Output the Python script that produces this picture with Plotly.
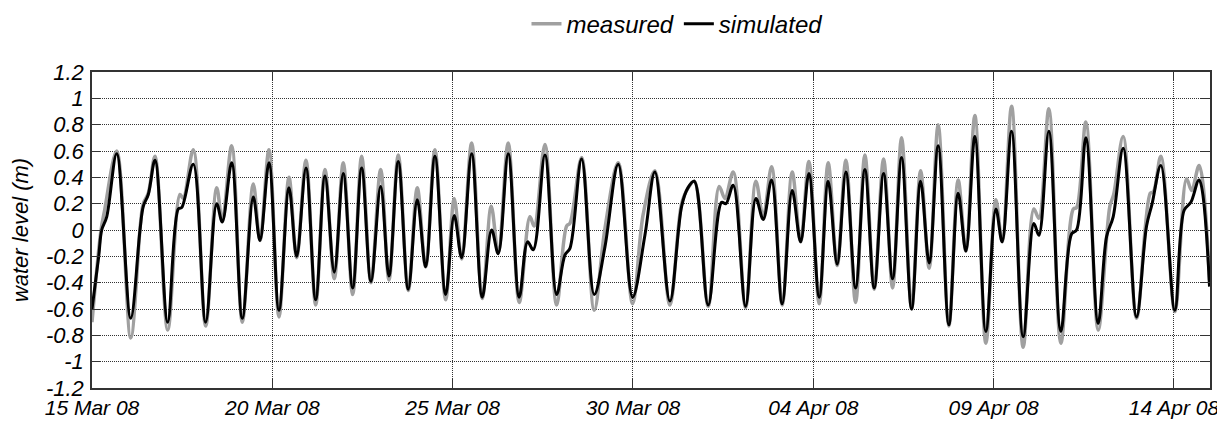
import pandas as pd
import plotly.graph_objects as go

# time of each point in days after 15 Mar 2008 00:00, values in m
sim_days = [0.00, 0.186, 0.269, 0.408, 0.685, 1.073, 1.331, 1.422, 1.561, 1.747,
            2.099, 2.393, 2.487, 2.808, 3.152, 3.457, 3.612, 3.873, 4.167, 4.472,
            4.658, 4.907, 5.184, 5.462, 5.675, 5.933, 6.202, 6.460, 6.718, 6.967,
            7.228, 7.477, 7.735, 8.004, 8.234, 8.492, 8.769, 9.019, 9.252, 9.509,
            9.806, 10.044, 10.250, 10.527, 10.821, 11.081, 11.264, 11.541, 11.846, 12.079,
            12.235, 12.559, 12.883, 13.113, 13.252, 13.576, 13.926, 14.222, 14.591, 14.990,
            15.331, 15.608, 16.024, 16.349, 16.523, 16.699, 17.086, 17.458, 17.577, 17.779,
            18.123, 18.409, 18.611, 18.844, 19.138, 19.415, 19.648, 19.878, 20.164, 20.413,
            20.663, 20.904, 21.173, 21.431, 21.689, 21.949, 22.199, 22.448, 22.726, 22.975,
            23.213, 23.463, 23.759, 24.017, 24.231, 24.480, 24.785, 25.062, 25.237, 25.498,
            25.820, 26.116, 26.255, 26.532, 26.864, 27.161, 27.300, 27.558, 27.899, 28.132,
            28.315, 28.592, 28.963, 29.241, 29.396, 29.637, 30.025, 30.283, 30.469, 30.699,
            30.987]
sim_level = [-0.60, -0.20, 0.00, 0.10, 0.58, -0.67, 0.00, 0.18, 0.27, 0.53,
             -0.70, 0.16, 0.17, 0.50, -0.70, 0.20, 0.06, 0.51, -0.67, 0.25,
             -0.08, 0.51, -0.61, 0.32, -0.20, 0.47, -0.53, 0.41, -0.32, 0.43,
             -0.44, 0.47, -0.39, 0.33, -0.35, 0.52, -0.45, 0.23, -0.28, 0.56,
             -0.49, 0.11, -0.21, 0.58, -0.51, 0.00, -0.18, 0.58, -0.51, -0.09,
             -0.15, 0.57, -0.49, -0.19, -0.14, 0.54, -0.49, -0.13, 0.50, -0.51,
             -0.04, 0.44, -0.54, 0.18, 0.32, 0.37, -0.57, 0.21, 0.20, 0.34,
             -0.58, 0.24, 0.08, 0.38, -0.56, 0.30, -0.09, 0.43, -0.51, 0.37,
             -0.26, 0.44, -0.44, 0.46, -0.44, 0.43, -0.37, 0.55, -0.60, 0.37,
             -0.25, 0.64, -0.72, 0.28, -0.16, 0.71, -0.77, 0.16, -0.09, 0.75,
             -0.81, 0.05, -0.04, 0.75, -0.77, -0.03, 0.00, 0.70, -0.71, -0.05,
             0.10, 0.62, -0.66, 0.03, 0.20, 0.49, -0.61, 0.15, 0.21, 0.38,
             -0.43]

meas_days = [0.00, 0.25, 0.35, 0.685, 1.073, 1.345, 1.422, 1.561, 1.747, 2.099,
             2.44, 2.53, 2.808, 3.152, 3.457, 3.612, 3.873, 4.167, 4.472, 4.658,
             4.907, 5.184, 5.462, 5.675, 5.933, 6.202, 6.460, 6.718, 6.967, 7.228,
             7.477, 7.735, 8.004, 8.234, 8.492, 8.769, 9.019, 9.252, 9.509, 9.806,
             10.044, 10.250, 10.527, 10.821, 11.07, 11.264, 11.541, 11.846, 12.143, 12.262,
             12.559, 12.883, 13.160, 13.252, 13.576, 13.926, 14.222, 14.591, 14.990, 15.284,
             15.608, 16.024, 16.349, 16.53, 16.699, 17.086, 17.391, 17.55, 17.779, 18.123,
             18.409, 18.611, 18.844, 19.138, 19.415, 19.648, 19.878, 20.164, 20.413, 20.663,
             20.904, 21.173, 21.431, 21.689, 21.949, 22.199, 22.448, 22.726, 22.975, 23.213,
             23.463, 23.759, 24.017, 24.231, 24.480, 24.785, 25.062, 25.237, 25.498, 25.820,
             26.116, 26.255, 26.532, 26.864, 27.21, 27.300, 27.558, 27.899, 28.223, 28.33,
             28.592, 28.963, 29.345, 29.43, 29.637, 30.025, 30.35, 30.49, 30.699, 30.987]
meas_level = [-0.70, 0.00, 0.15, 0.60, -0.82, 0.05, 0.20, 0.28, 0.56, -0.76,
              0.27, 0.24, 0.61, -0.73, 0.32, 0.07, 0.64, -0.70, 0.35, -0.08,
              0.61, -0.66, 0.40, -0.21, 0.53, -0.57, 0.46, -0.37, 0.51, -0.49,
              0.56, -0.40, 0.46, -0.38, 0.57, -0.46, 0.32, -0.28, 0.61, -0.53,
              0.24, -0.22, 0.66, -0.52, 0.18, -0.17, 0.66, -0.55, 0.10, 0.03,
              0.65, -0.57, 0.03, 0.05, 0.55, -0.61, 0.01, 0.51, -0.56, 0.12,
              0.45, -0.57, 0.20, 0.32, 0.37, -0.58, 0.33, 0.24, 0.44, -0.59,
              0.37, 0.10, 0.48, -0.57, 0.44, -0.09, 0.52, -0.56, 0.51, -0.27,
              0.53, -0.55, 0.57, -0.45, 0.54, -0.44, 0.70, -0.60, 0.45, -0.29,
              0.80, -0.73, 0.38, -0.16, 0.87, -0.86, 0.23, -0.09, 0.94, -0.89,
              0.16, 0.09, 0.92, -0.86, 0.16, 0.17, 0.82, -0.76, 0.18, 0.27,
              0.71, -0.67, 0.28, 0.29, 0.56, -0.62, 0.39, 0.30, 0.49, -0.38]

y_ticks = [-1.2, -1.0, -0.8, -0.6, -0.4, -0.2, 0.0, 0.2, 0.4, 0.6, 0.8, 1.0, 1.2]
y_tick_text = ["-1.2", "-1", "-0.8", "-0.6", "-0.4", "-0.2", "0", "0.2", "0.4", "0.6", "0.8", "1", "1.2"]

start = pd.Timestamp("2008-03-15")
sim_t = start + pd.to_timedelta(sim_days, unit="D")
meas_t = start + pd.to_timedelta(meas_days, unit="D")

FONT = "Liberation Sans, Arial, sans-serif"

fig = go.Figure()
fig.add_trace(go.Scatter(x=meas_t, y=meas_level, mode="lines", name="measured",
                         line=dict(color="#a0a0a0", width=3.5, shape="spline", smoothing=1.0)))
fig.add_trace(go.Scatter(x=sim_t, y=sim_level, mode="lines", name="simulated",
                         line=dict(color="#000000", width=3, shape="spline", smoothing=1.0)))

axis_common = dict(showline=True, linecolor="#333333", linewidth=1.5, mirror="ticks",
                   ticks="inside", ticklen=9, tickcolor="#333333",
                   showgrid=True, gridcolor="#333333", griddash="1px,1px", gridwidth=1,
                   zeroline=False, automargin=False)

fig.update_xaxes(type="date", range=[start, start + pd.Timedelta(days=31)],
                 tick0=start, dtick=5 * 86400000, tickformat="%d %b %y",
                 ticklabelstandoff=0,
                 tickfont=dict(family=FONT, size=21, color="black", style="italic"),
                 **axis_common)
fig.update_yaxes(range=[-1.2, 1.2], tickvals=y_ticks, ticktext=y_tick_text,
                 ticklabelstandoff=2,
                 tickfont=dict(family=FONT, size=22, color="black", style="italic"),
                 title=dict(text="water level (m)", standoff=18,
                            font=dict(family=FONT, size=22, color="black", style="italic")),
                 **axis_common)

# page body adds an 8px offset, so the figure is sized to fill the remaining window
fig.update_layout(
    width=1217, height=413,
    margin=dict(l=84, r=15, t=64, b=33),
    paper_bgcolor="white", plot_bgcolor="white",
    showlegend=True,
    legend=dict(orientation="h", xref="container", x=0.5497, xanchor="center",
                yref="container", y=0.961, yanchor="middle",
                font=dict(family=FONT, size=24, color="black", style="italic"),
                bgcolor="rgba(0,0,0,0)"),
)

fig.write_html("out.html")
